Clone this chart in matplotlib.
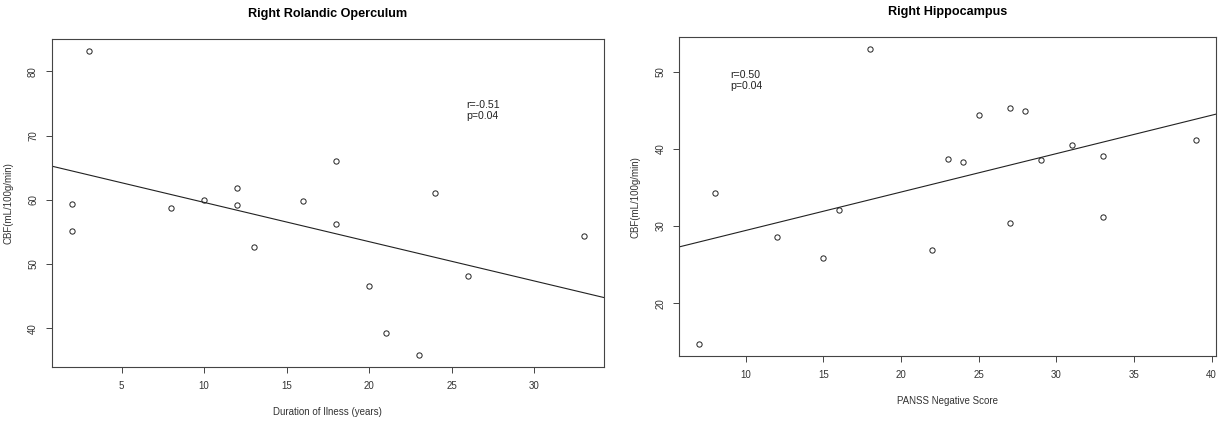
import numpy as np
import matplotlib.pyplot as plt

plt.rcParams['font.family'] = ['Liberation Sans', 'DejaVu Sans']

# Right Rolandic Operculum: duration of illness vs CBF
dur_years = [3, 2, 2, 8, 10, 12, 12, 13, 16, 18, 18, 24, 33, 26, 20, 21, 23]
cbf_rolandic = [83.1, 59.4, 55.1, 58.75, 59.9, 61.9, 59.2, 52.6, 59.8, 66.1,
                56.15, 61.1, 54.4, 48.2, 46.6, 39.3, 35.8]

# Right Hippocampus: PANSS negative score vs CBF
panss_neg = [7, 8, 12, 15, 16, 18, 22, 23, 24, 25, 27, 28, 27, 29, 31, 33, 33, 39]
cbf_hippo = [14.69, 34.35, 28.57, 25.8, 32.07, 52.94, 26.84, 38.66, 38.27, 44.4,
             45.35, 44.92, 30.39, 38.58, 40.52, 39.09, 31.2, 41.13]

panels = [
    dict(x=dur_years, y=cbf_rolandic, title='Right Rolandic Operculum',
         xlabel='Duration of Ilness (years)', stats='r=-0.51\np=0.04', sx=25.9, sy=73.9,
         xticks=[5, 10, 15, 20, 25, 30], yticks=[40, 50, 60, 70, 80],
         rect=[0.042, 0.1458, 0.4487, 0.7628]),
    dict(x=panss_neg, y=cbf_hippo, title='Right Hippocampus',
         xlabel='PANSS Negative Score', stats='r=0.50\np=0.04', sx=9.0, sy=48.9,
         xticks=[10, 15, 20, 25, 30, 35, 40], yticks=[20, 30, 40, 50],
         rect=[0.5518, 0.1721, 0.4360, 0.7412]),
]

fig = plt.figure(figsize=(12.31, 4.30), dpi=100)
box_col = '#444444'

for p in panels:
    ax = fig.add_axes(p['rect'])
    x = np.array(p['x'], dtype=float)
    y = np.array(p['y'], dtype=float)

    # R-style 4% range extension
    xr = x.max() - x.min()
    yr = y.max() - y.min()
    ax.set_xlim(x.min() - 0.04 * xr, x.max() + 0.04 * xr)
    ax.set_ylim(y.min() - 0.04 * yr, y.max() + 0.04 * yr)

    ax.plot(x, y, 'o', mfc='none', mec='#222222', ms=3.8, mew=0.7)

    slope, intercept = np.polyfit(x, y, 1)
    xl = np.array(ax.get_xlim())
    ax.plot(xl, intercept + slope * xl, color='#222222', lw=0.8)

    ax.text(p['sx'], p['sy'], p['stats'], fontsize=7.6, color='#222222',
            ha='left', va='center', linespacing=1.1)

    ax.set_xticks(p['xticks'])
    ax.set_yticks(p['yticks'])
    ax.tick_params(axis='both', labelsize=7, length=4.3, width=0.7,
                   color=box_col, labelcolor='#333333', pad=5.5)
    ax.tick_params(axis='y', labelrotation=90)
    for lab in ax.get_yticklabels():
        lab.set_va('center')
    for s in ax.spines.values():
        s.set_color(box_col)
        s.set_linewidth(0.8)

    h_px = p['rect'][3] * 430
    w_px = p['rect'][2] * 1231
    ax.text(0.5, 1 + 25 / h_px, p['title'], transform=ax.transAxes,
            ha='center', va='center', fontsize=9.1, fontweight='bold')
    ax.text(0.5, -45 / h_px, p['xlabel'], transform=ax.transAxes,
            ha='center', va='center', fontsize=7, color='#333333')
    ax.text(-43.5 / w_px, 0.5, 'CBF(mL/100g/min)', transform=ax.transAxes,
            ha='center', va='center', rotation=90, fontsize=7, color='#333333')

fig.savefig('out.png', dpi=100)
